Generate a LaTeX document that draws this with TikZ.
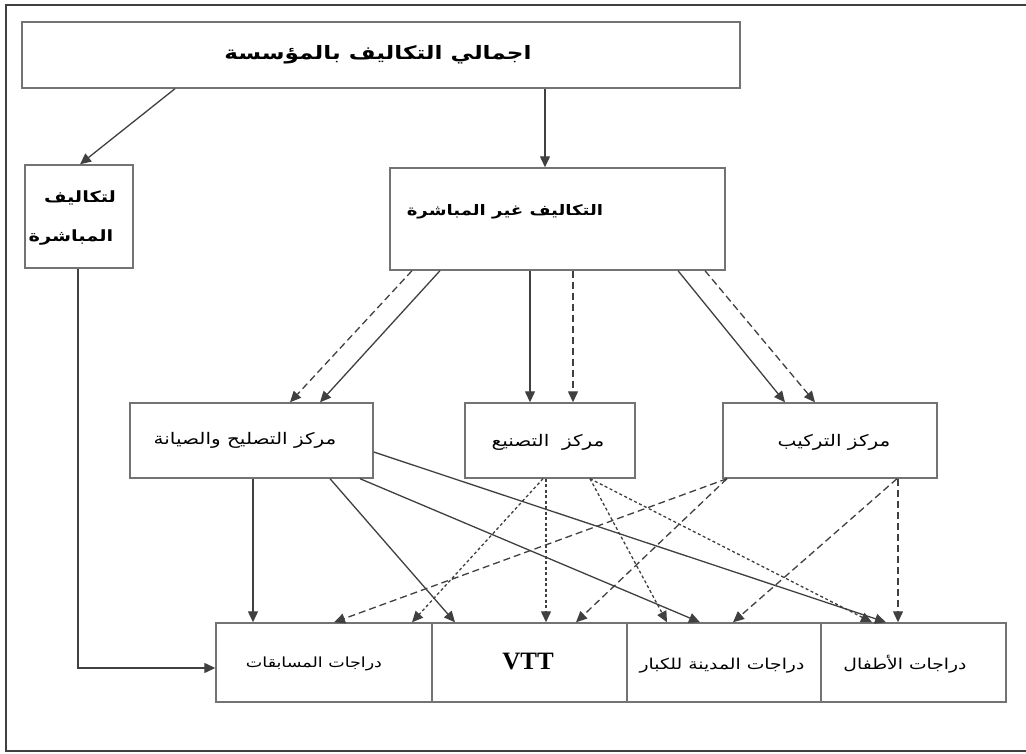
\documentclass[tikz,border=0pt]{standalone}
\usepackage{fontspec}
\usetikzlibrary{arrows.meta}
\TeXXeTstate=1
\setmainfont{Liberation Serif}
\newfontfamily\arabicfont[Script=Arabic, FakeStretch=1.25]{DejaVu Sans}
\newcommand{\artxt}[1]{{\arabicfont\beginR #1\endR}}
\definecolor{boxgray}{gray}{0.45}
\definecolor{linegray}{gray}{0.25}

\begin{document}
\begin{tikzpicture}[x=1pt,y=-1pt,
  box/.style={draw=boxgray, line width=1.4pt, rectangle, inner sep=0pt},
  lbl/.style={inner sep=0pt, text=black},
  conn/.style={draw=linegray, line width=1.3pt, -{Triangle[length=11pt,width=10pt]}},
  longdash/.style={dash pattern=on 7pt off 4pt},
  finedash/.style={dash pattern=on 3pt off 2.5pt}]

\useasboundingbox (0,0) rectangle (1026,754);
\fill[white] (0,0) rectangle (1026,754);

% outer frame (open on the right)
\draw[draw=linegray, line width=1.5pt] (1026,5) -- (6,5) -- (6,751) -- (1026,751);

% boxes
\node[box, minimum width=718pt, minimum height=66pt] (total) at (381,55) {};
\node[box, minimum width=108pt, minimum height=103pt] (direct) at (79,216.5) {};
\node[box, minimum width=335pt, minimum height=102pt] (indirect) at (557.5,219) {};
\node[box, minimum width=243pt, minimum height=75pt] (repair) at (251.5,440.5) {};
\node[box, minimum width=170pt, minimum height=75pt] (manuf) at (550,440.5) {};
\node[box, minimum width=214pt, minimum height=75pt] (assembly) at (830,440.5) {};

\node[box, minimum width=216pt, minimum height=79pt] (race) at (324,662.5) {};
\node[box, minimum width=195pt, minimum height=79pt] (vtt) at (529.5,662.5) {};
\node[box, minimum width=194pt, minimum height=79pt] (city) at (724,662.5) {};
\node[box, minimum width=185pt, minimum height=79pt] (kids) at (913.5,662.5) {};

% labels
\node[lbl, font=\fontsize{18.5}{22}\selectfont\bfseries] (totaltxt) at (378,55) {\artxt{اجمالي التكاليف بالمؤسسة}};
\node[lbl, font=\fontsize{15.5}{18}\selectfont\bfseries] (directtxt1) at (80,198) {\artxt{لتكاليف}};
\node[lbl, font=\fontsize{15.5}{18}\selectfont\bfseries] (directtxt2) at (71,238) {\artxt{المباشرة}};
\node[lbl, font=\fontsize{14.5}{17}\selectfont\bfseries] (indirecttxt) at (505,212) {\artxt{التكاليف غير المباشرة}};
\node[lbl, font=\fontsize{16}{19}\selectfont] (repairtxt) at (245,440) {\artxt{مركز التصليح والصيانة}};
\node[lbl, font=\fontsize{16}{19}\selectfont] (manuftxt) at (548,442) {\artxt{مركز~~التصنيع}};
\node[lbl, font=\fontsize{16}{19}\selectfont] (assemblytxt) at (834,442) {\artxt{مركز التركيب}};
\node[lbl, font=\fontsize{14}{17}\selectfont] (racetxt) at (314,664) {\artxt{دراجات المسابقات}};
\node[lbl, font=\fontsize{25}{28}\selectfont\bfseries] (vtttxt) at (528,662) {VTT};
\node[lbl, font=\fontsize{15}{18}\selectfont] (citytxt) at (722,666) {\artxt{دراجات المدينة للكبار}};
\node[lbl, font=\fontsize{15}{18}\selectfont] (kidstxt) at (905,664) {\artxt{دراجات الأطفال}};

% total costs split
\draw[conn] (175,0 |- total.south) -- (80,0 |- direct.north);
\draw[conn] (545,0 |- total.south) -- (545,0 |- indirect.north);

% indirect costs to the centres
\draw[conn, longdash] (412,0 |- indirect.south) -- (290,0 |- repair.north);
\draw[conn] (440,0 |- indirect.south) -- (320,0 |- repair.north);
\draw[conn] (530,0 |- indirect.south) -- (530,0 |- manuf.north);
\draw[conn, longdash] (573,0 |- indirect.south) -- (573,0 |- manuf.north);
\draw[conn] (678,0 |- indirect.south) -- (785,0 |- assembly.north);
\draw[conn, longdash] (705,0 |- indirect.south) -- (815,0 |- assembly.north);

% direct costs to racing bikes
\draw[conn] (78,0 |- direct.south) |- (race.west |- 0,668);

% repair and maintenance centre
\draw[conn] (253,0 |- repair.south) -- (253,0 |- race.north);
\draw[conn] (330,0 |- repair.south) -- (455,0 |- vtt.north);
\draw[conn] (360,0 |- repair.south) -- (700,0 |- city.north);
\draw[conn] (repair.east |- 0,452) -- (886,0 |- kids.north);

% manufacturing centre
\draw[conn, finedash] (543,0 |- manuf.south) -- (412,0 |- race.north);
\draw[conn, finedash] (546,0 |- manuf.south) -- (546,0 |- vtt.north);
\draw[conn, finedash] (590,0 |- manuf.south) -- (667,0 |- city.north);
\draw[conn, finedash] (590,0 |- manuf.south) -- (872,0 |- kids.north);

% assembly centre
\draw[conn, longdash] (727,0 |- assembly.south) -- (334,0 |- race.north);
\draw[conn, longdash] (727,0 |- assembly.south) -- (576,0 |- vtt.north);
\draw[conn, longdash] (897,0 |- assembly.south) -- (733,0 |- city.north);
\draw[conn, longdash] (898,0 |- assembly.south) -- (898,0 |- kids.north);

\end{tikzpicture}
\end{document}
